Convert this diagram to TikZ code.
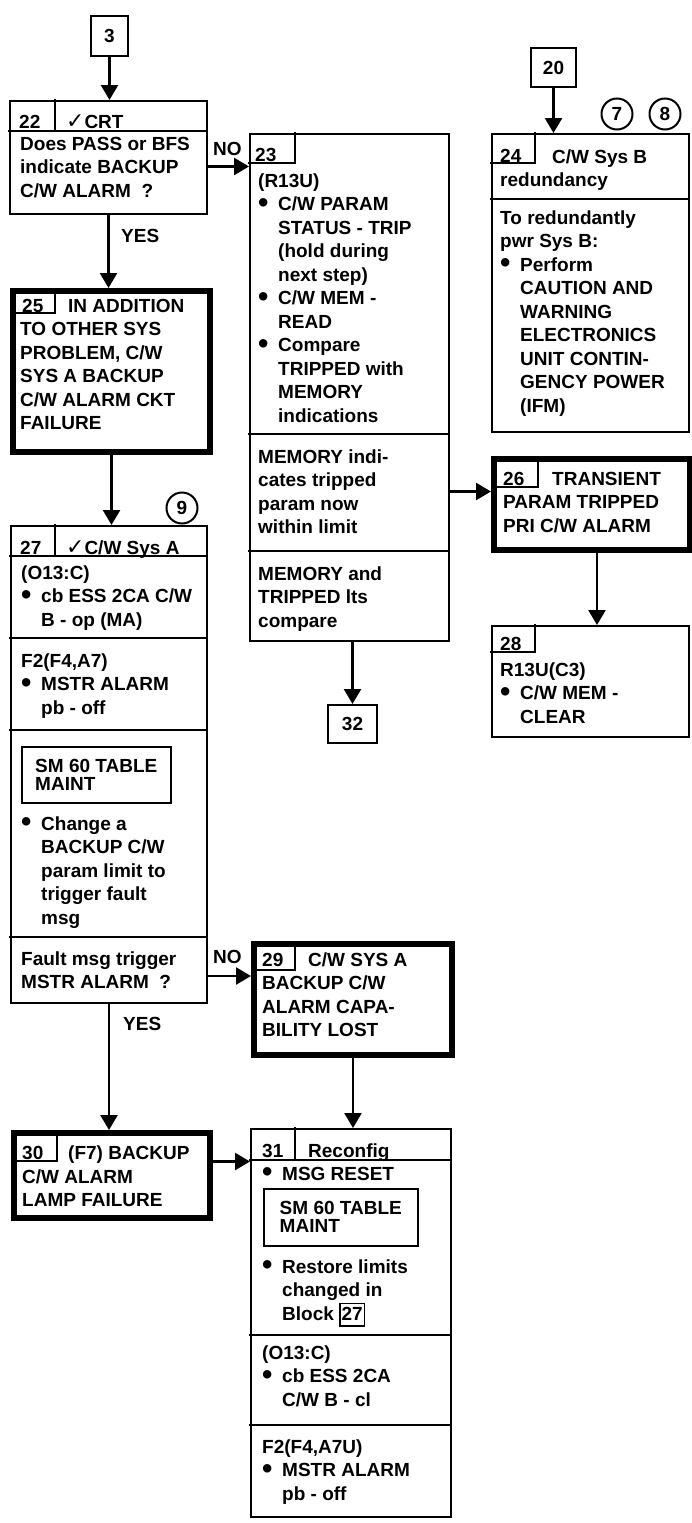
\documentclass[tikz,border=0pt]{standalone}
\usepackage{fontspec}
\setmainfont{Liberation Sans}
\newfontfamily\symfont{DejaVu Sans}
\usepackage{graphicx}
\usetikzlibrary{arrows.meta}
\newcommand{\tfont}{\fontsize{19}{23.5}\selectfont\bfseries}
\newcommand{\bul}{\makebox[20pt][l]{\raisebox{-1.6pt}{\scalebox{1.55}{\textbullet}}}}
\newcommand{\bind}{\hspace*{20pt}}
\newcommand{\cwcheck}{{\symfont\bfseries\scalebox{1.15}{✓}}}

\begin{document}
\begin{tikzpicture}[
  x=1pt, y=-1pt,
  blockbox/.style={draw, line width=2pt, inner sep=0pt, anchor=north west, font=\tfont},
  failbox/.style={blockbox, line width=6pt},
  dispbox/.style={draw, line width=1.6pt, inner sep=0pt, anchor=north west, align=left,
    font=\fontsize{19}{18}\selectfont\bfseries},
  tagline/.style={line width=1.4pt},
  divline/.style={line width=2pt},
  blocktext/.style={anchor=north west, inner sep=0pt, align=left, font=\tfont, yshift=16.45pt},
  flowlabel/.style={anchor=base west, inner sep=0pt, font=\tfont},
  flowarrow/.style={-{Triangle[length=15pt,width=17pt]}, line width=2.5pt},
  refcircle/.style={draw, circle, line width=2pt, minimum size=31pt, inner sep=0pt, font=\tfont}
]
  \fill[white] (0,0) rectangle (691,1523);
  \useasboundingbox (0,0) rectangle (691,1523);

  % --- entry and exit references ---
  \node[blockbox, minimum width=37pt, minimum height=40pt] (b3) at (90,15) {3};
  \node[blockbox, minimum width=45pt, minimum height=39pt] (b20) at (530,47) {20};
  \node[blockbox, minimum width=49pt, minimum height=38pt] (b32) at (327,704) {32};
  \node[refcircle] (c7) at (617,114) {7};
  \node[refcircle] (c8) at (665,114) {8};
  \node[refcircle] (c9) at (182,508) {9};

  % --- BLOCK 22: CRT CHECK ---
  \node[blockbox, minimum width=197pt, minimum height=113pt] (b22) at (9,100) {};
  \draw[divline] (8,131) -- (207,131);
  \draw[divline] (55,99) -- (55,131);
  \node[blocktext] (h22n) at (19,128) {\strut 22};
  \node[blocktext] (h22t) at (66,128) {\strut\cwcheck CRT};
  \node[blocktext] (t22) at (20,150) {\strut Does PASS or BFS\\indicate BACKUP\\C/W ALARM\ \ ?};

  % --- BLOCK 23: MEMORY READ ---
  \node[blockbox, minimum width=199pt, minimum height=507pt] (b23) at (249,133) {};
  \draw[tagline] (295,132) -- (295,163) -- (248,163);
  \node[blocktext] (h23n) at (255,161) {\strut 23};
  \node[blocktext] (t23a) at (258,187) {\strut (R13U)\\\bul C/W PARAM\\\bind STATUS - TRIP\\\bind (hold during\\\bind next step)\\\bul C/W MEM -\\\bind READ\\\bul Compare\\\bind TRIPPED with\\\bind MEMORY\\\bind indications};
  \draw[divline] (248,434) -- (449,434);
  \node[blocktext] (t23b) at (258,463) {\strut MEMORY indi-\\cates tripped\\param now\\within limit};
  \draw[divline] (248,551) -- (449,551);
  \node[blocktext] (t23c) at (258,580) {\strut MEMORY and\\TRIPPED lts\\compare};

  % --- BLOCK 24: SYS B REDUNDANCY ---
  \node[blockbox, minimum width=197pt, minimum height=298pt] (b24) at (491,133) {};
  \draw[tagline] (535,132) -- (535,163) -- (490,163);
  \node[blocktext] (h24n) at (500,162) {\strut 24};
  \node[blocktext] (h24t) at (552,163) {\strut C/W Sys B};
  \node[blocktext] (h24s) at (500,186) {\strut redundancy};
  \draw[divline] (490,199) -- (689,199);
  \node[blocktext] (t24) at (500,224) {\strut To redundantly\\pwr Sys B:\\\bul Perform\\\bind CAUTION AND\\\bind WARNING\\\bind ELECTRONICS\\\bind UNIT CONTIN-\\\bind GENCY POWER\\\bind (IFM)};

  % --- BLOCK 25: CKT FAILURE ---
  \node[failbox, minimum width=197pt, minimum height=161pt] (b25) at (10,288) {};
  \draw[tagline] (55,288) -- (55,313) -- (10,313);
  \node[blocktext] (h25n) at (22,312) {\strut 25};
  \node[blocktext] (h25t) at (68,312) {\strut IN ADDITION};
  \node[blocktext] (t25) at (20,335.5) {\strut TO OTHER SYS\\PROBLEM, C/W\\SYS A BACKUP\\C/W ALARM CKT\\FAILURE};

  % --- BLOCK 26: TRANSIENT PARAM ---
  \node[failbox, minimum width=196pt, minimum height=91pt] (b26) at (491,456) {};
  \draw[tagline] (538,456) -- (538,487) -- (491,487);
  \node[blocktext] (h26n) at (503,485) {\strut 26};
  \node[blocktext] (h26t) at (552,485) {\strut TRANSIENT};
  \node[blocktext] (t26) at (503,508.5) {\strut PARAM TRIPPED\\PRI C/W ALARM};

  % --- BLOCK 27: SYS A CHECK ---
  \node[blockbox, minimum width=196pt, minimum height=477pt] (b27) at (10,525) {};
  \draw[divline] (9,556) -- (207,556);
  \draw[divline] (55,524) -- (55,556);
  \node[blocktext] (h27n) at (20,554) {\strut 27};
  \node[blocktext] (h27t) at (66,554) {\strut\cwcheck C/W Sys A};
  \node[blocktext] (t27a) at (21,579) {\strut (O13:C)\\\bul cb ESS 2CA C/W\\\bind B - op (MA)};
  \draw[divline] (9,638) -- (207,638);
  \node[blocktext] (t27b) at (21,667) {\strut F2(F4,A7)\\\bul MSTR ALARM\\\bind pb - off};
  \draw[divline] (9,730) -- (207,730);
  \node[dispbox, minimum width=149pt, minimum height=56pt] (sm27) at (21,746) {SM 60 TABLE\\MAINT};
  \node[blocktext] (t27c) at (21,830) {\strut\bul Change a\\\bind BACKUP C/W\\\bind param limit to\\\bind trigger fault\\\bind msg};
  \draw[divline] (9,937) -- (207,937);
  \node[blocktext] (t27d) at (21,965) {\strut Fault msg trigger\\MSTR ALARM\ \ ?};

  % --- BLOCK 28: MEM CLEAR ---
  \node[blockbox, minimum width=197pt, minimum height=111pt] (b28) at (491,625) {};
  \draw[tagline] (535,624) -- (535,652) -- (490,652);
  \node[blocktext] (h28n) at (500,650) {\strut 28};
  \node[blocktext] (t28) at (500,676) {\strut R13U(C3)\\\bul C/W MEM -\\\bind CLEAR};

  % --- BLOCK 29: CAPABILITY LOST ---
  \node[failbox, minimum width=198pt, minimum height=111pt] (b29) at (251,941) {};
  \draw[tagline] (295,941) -- (295,970) -- (251,970);
  \node[blocktext] (h29n) at (262,966) {\strut 29};
  \node[blocktext] (h29t) at (308,966) {\strut C/W SYS A};
  \node[blocktext] (t29) at (262,989.5) {\strut BACKUP C/W\\ALARM CAPA-\\BILITY LOST};

  % --- BLOCK 30: LAMP FAILURE ---
  \node[failbox, minimum width=196pt, minimum height=85pt] (b30) at (11,1130) {};
  \draw[tagline] (57,1130) -- (57,1161) -- (11,1161);
  \node[blocktext] (h30n) at (22,1159) {\strut 30};
  \node[blocktext] (h30t) at (68,1159) {\strut (F7) BACKUP};
  \node[blocktext] (t30) at (22,1183) {\strut C/W ALARM\\LAMP FAILURE};

  % --- BLOCK 31: RECONFIG ---
  \node[blockbox, minimum width=200pt, minimum height=388pt] (b31) at (250,1128) {};
  \draw[divline] (249,1160) -- (451,1160);
  \draw[divline] (295,1127) -- (295,1160);
  \node[blocktext] (h31n) at (262,1157) {\strut 31};
  \node[blocktext] (h31t) at (308,1157) {\strut Reconfig};
  \node[blocktext] (t31a) at (262,1180) {\strut\bul MSG RESET};
  \node[dispbox, minimum width=154pt, minimum height=57pt] (sm31) at (263,1188) {SM 60 TABLE\\MAINT};
  \node[blocktext] (t31b) at (262,1273) {\strut\bul Restore limits\\\bind changed in\\\bind Block \setlength{\fboxsep}{1pt}\setlength{\fboxrule}{1.4pt}\fbox{\rule[-4pt]{0pt}{19pt}27}};
  \draw[divline] (249,1335) -- (451,1335);
  \node[blocktext] (t31c) at (262,1359) {\strut (O13:C)\\\bul cb ESS 2CA\\\bind C/W B - cl};
  \draw[divline] (249,1425) -- (451,1425);
  \node[blocktext] (t31d) at (262,1453) {\strut F2(F4,A7U)\\\bul MSTR ALARM\\\bind pb - off};

  % Flow connectors
  \draw[flowarrow] (b3.south) -- (b3.south |- b22.north);
  \draw[flowarrow] (b20.south) -- (b20.south |- b24.north);
  \draw[flowarrow] ([yshift=-9pt]b22.east) -- ([yshift=-9pt]b22.east -| b23.west);
  \draw[flowarrow] (b22.south) -- (b22.south |- b25.north);
  \draw[flowarrow] (b25.south) -- (b25.south |- b27.north);
  \draw[flowarrow] ([yshift=13pt]b26.west -| b23.east) -- ([yshift=13pt]b26.west);
  \draw[flowarrow] ([xshift=5pt]b26.south) -- ([xshift=5pt]b26.south |- b28.north);
  \draw[flowarrow] (b32.north |- b23.south) -- (b32.north);
  \draw[flowarrow] ([yshift=28pt]b27.south east) -- ([yshift=28pt]b27.south east -| b29.west);
  \draw[flowarrow] (b27.south) -- (b27.south |- b30.north);
  \draw[flowarrow] (b29.south) -- (b29.south |- b31.north);
  \draw[flowarrow] ([yshift=14pt]b30.east) -- ([yshift=14pt]b30.east -| b31.west);

  % Branch labels
  \node[flowlabel] (lno22) at (213,155) {NO};
  \node[flowlabel] (lyes22) at (121,242) {YES};
  \node[flowlabel] (lno27) at (213,963) {NO};
  \node[flowlabel] (lyes27) at (123,1030) {YES};

\end{tikzpicture}
\end{document}
